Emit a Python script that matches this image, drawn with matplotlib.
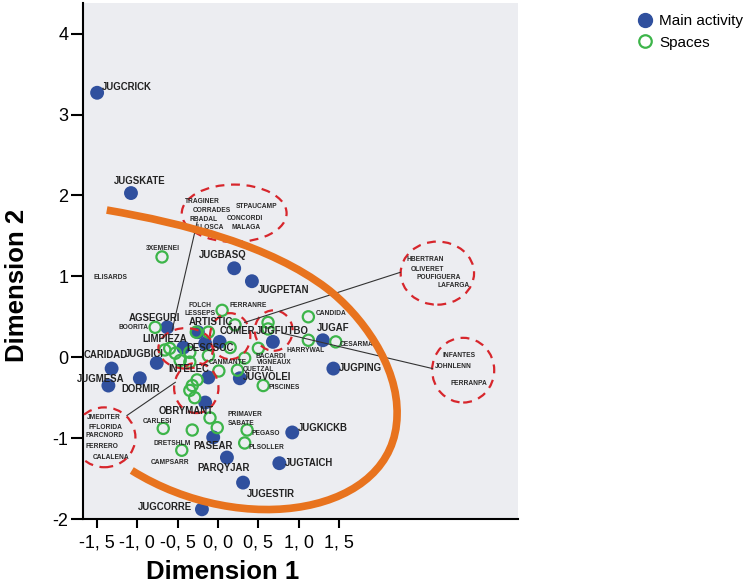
import numpy as np
import matplotlib
matplotlib.use("Agg")
import matplotlib.pyplot as plt
from matplotlib.patches import Ellipse, PathPatch
from matplotlib.path import Path
from matplotlib.lines import Line2D
from matplotlib.ticker import FixedLocator, FuncFormatter

plt.rcParams['font.family'] = ['Liberation Sans', 'DejaVu Sans']
plt.rcParams['axes.unicode_minus'] = False

# main activities (filled blue)
act_names = ['JUGCRICK', 'JUGSKATE', 'JUGBASQ', 'JUGPETAN', 'AGSEGURI', 'ARTISTIC',
             'LIMPIEZA', 'COMER', 'DESCSOC', 'JUGFUTBO', 'JUGAF', 'JUGPING',
             'JUGBICI', 'CARIDAD', 'JUGMESA', 'DORMIR', 'INTELEC', 'JUGVOLEI',
             'OBRYMANT', 'PASEAR', 'PARQYJAR', 'JUGESTIR', 'JUGCORRE', 'JUGKICKB',
             'JUGTAICH']
act_x = [-1.50, -1.08, 0.20, 0.42, -0.63, -0.25, -0.43, 0.02, -0.16, 0.68, 1.30, 1.43,
         -0.76, -1.32, -1.36, -0.97, -0.12, 0.27, -0.16, -0.06, 0.11, 0.31, -0.20, 0.92,
         0.76]
act_y = [3.27, 2.03, 1.10, 0.94, 0.37, 0.31, 0.12, 0.19, 0.17, 0.19, 0.21, -0.14,
         -0.07, -0.14, -0.35, -0.26, -0.25, -0.26, -0.56, -0.99, -1.24, -1.55, -1.88, -0.93,
         -1.31]

# spaces (open green circles), '' = no label
sp_names = ['3XEMENEI', 'BOORITA', 'FERRANRE', 'CANDIDA', 'HARRYWAL', 'CESARMA',
            'BACARDI', 'VIGNEAUX', 'CANMANTE', 'QUETZAL', 'PISCINES', 'PRIMAVER',
            'SABATE', 'PEGASO', 'PLSOLLER', 'CARLESI', 'DRETSHLM',
            '', '', '', '', '', '', '', '', '', '', '', '', '', '', '', '', '', '']
sp_x = [-0.695, -0.78, 0.05, 1.12, 1.12, 1.46, 0.50, 0.33, 0.01, 0.24, 0.56, -0.10,
        -0.01, 0.36, 0.33, -0.68, -0.45,
        -0.32, -0.12, 0.21, 0.62, 0.62, -0.60, -0.66, -0.53, -0.35, -0.12, -0.47, -0.35,
        0.15, -0.26, -0.32, -0.35, -0.29, -0.27]
sp_y = [1.24, 0.37, 0.58, 0.50, 0.21, 0.19, 0.11, -0.01, -0.17, -0.16, -0.35, -0.75,
        -0.87, -0.90, -1.06, -0.88, -1.15,
        -0.90, 0.31, 0.40, 0.43, 0.35, 0.11, 0.09, 0.05, 0.06, 0.02, -0.04, -0.06,
        0.12, -0.28, -0.35, -0.41, -0.50, 0.31]

# spaces shown only by name (grouped in the callouts)
grp_names = ['TRAGINER', 'CORRADES', 'RBADAL', 'LLOSCA', 'STPAUCAMP', 'CONCORDI', 'MALAGA',
             'HBERTRAN', 'OLIVERET', 'POUFIGUERA', 'LAFARGA',
             'INFANTES', 'JOHNLENN', 'FERRANPA',
             'JMEDITER', 'FFLORIDA', 'PARCNORD', 'FERRERO', 'CALALENA',
             'ELISARDS', 'CAMPSARR', 'FOLCH', 'LESSEPS']
grp_x = [-0.41, -0.31, -0.35, -0.27, 0.22, 0.11, 0.17,
         2.34, 2.39, 2.46, 2.72,
         2.78, 2.69, 2.88,
         -1.63, -1.61, -1.65, -1.65, -1.55,
         -1.55, -0.84, -0.37, -0.41]
grp_y = [1.92, 1.81, 1.70, 1.60, 1.86, 1.71, 1.60,
         1.21, 1.09, 0.98, 0.89,
         0.02, -0.11, -0.32,
         -0.75, -0.87, -0.97, -1.10, -1.24,
         0.98, -1.30, 0.64, 0.54]

# label offsets (points)
act_off = [(21.6, 4.3), (6.5, 8.6), (-8.6, 9.4), (23, -6.5), (-9.4, 6.5), (9.4, 7),
           (-13.7, 6.5), (13, 7.9), (3.6, -3.6), (6.5, 7.9), (7.2, 8.6), (19.4, 0.7),
           (-8.6, 6.5), (-4.3, 10), (-5.8, 5), (0.7, -7.9), (-14.4, 5.8), (19.4, 0.7),
           (-13.7, -5.8), (0, -6.5), (-2.2, -7.2), (20, -7.9), (-26.6, 1.4), (22.3, 2.9),
           (21.6, 0)]
sp_off = [(0.7, 5.8), (-15.8, 0), (18.7, 3.6), (16.6, 2.2), (-2.2, -7.2), (15, -2.2),
          (8.6, -5.8), (21.6, -2.9), (6.5, 5.8), (15, 0.7), (15, -1.4), (25, 2.2),
          (17.3, 2.9), (13.7, -2.2), (15.8, -3.6), (-4.3, 5), (-7.2, 5)]

BLUE = '#30509E'
GREEN = '#3DB54A'
RED = '#D7262C'
ORANGE = '#E8731E'

fig = plt.figure(figsize=(7.51, 5.86), dpi=100)
ax = fig.add_axes([83/751, 1 - 519/586, (518 - 83)/751, (519 - 3)/586])
ax.set_facecolor('#ECEDF1')
ax.set_xlim(-1.675, 3.72)
ax.set_ylim(-2.0, 4.38)
for s in ['top', 'right']:
    ax.spines[s].set_visible(False)
for s in ['left', 'bottom']:
    ax.spines[s].set_linewidth(1.5)

ax.scatter(act_x, act_y, s=100, color=BLUE, edgecolors='none', zorder=3)
ax.scatter(sp_x, sp_y, s=65, facecolors='none', edgecolors=GREEN, linewidths=1.6, zorder=4)

for n, x, y, o in zip(act_names, act_x, act_y, act_off):
    ax.annotate(n, (x, y), xytext=o, textcoords='offset points', ha='center', va='center',
                fontsize=6.9, fontweight='bold', color='#222222', zorder=6)
for n, x, y, o in zip(sp_names, sp_x, sp_y, sp_off + [(0, 0)] * (len(sp_names) - len(sp_off))):
    if n:
        ax.annotate(n, (x, y), xytext=o, textcoords='offset points', ha='center', va='center',
                    fontsize=4.8, fontweight='bold', color='#2a2a2a', zorder=6)
for n, x, y in zip(grp_names, grp_x, grp_y):
    ax.text(x, y, n, ha='left', va='center', fontsize=4.8, fontweight='bold',
            color='#2a2a2a', zorder=6)

# callout ellipses
ells = [((0.20, 1.78), 1.30, 0.71), ((2.72, 1.04), 0.91, 0.78), ((3.04, -0.16), 0.77, 0.80),
        ((-1.41, -0.99), 0.77, 0.74), ((0.69, 0.33), 0.47, 0.50), ((0.15, 0.26), 0.50, 0.57),
        ((-0.40, 0.11), 0.68, 0.50), ((-0.27, -0.38), 0.55, 0.62)]
for c, w, h in ells:
    ax.add_patch(Ellipse(c, w, h, fill=False, edgecolor=RED, lw=1.6, ls=(0, (4, 3)), zorder=5))

# connector lines
for (x0, y0), (x1, y1) in [((-0.26, 1.67), (-0.57, 0.33)), ((2.26, 1.05), (0.33, 0.43)),
                           ((0.79, 0.30), (2.66, -0.14)), ((-1.13, -0.72), (-0.53, -0.31))]:
    ax.plot([x0, x1], [y0, y1], color='#333333', lw=0.8, zorder=5)

# orange arc
verts = [(-1.38, 1.82), (-0.4, 1.65), (0.65, 1.38), (1.35, 0.85),
         (1.77, 0.53), (2.24, -0.1), (2.22, -0.72),
         (2.2, -1.95), (0.3, -2.25), (-1.07, -1.40)]
codes = [Path.MOVETO] + [Path.CURVE4] * 9
ax.add_patch(PathPatch(Path(verts, codes), fill=False, edgecolor=ORANGE, lw=5.5,
                       capstyle='butt', zorder=7))

ax.xaxis.set_major_locator(FixedLocator([-1.5, -1.0, -0.5, 0.0, 0.5, 1.0, 1.5]))
ax.xaxis.set_major_formatter(FuncFormatter(lambda v, p: ('%.1f' % v).replace('.', ', ')))
ax.yaxis.set_major_locator(FixedLocator([-2, -1, 0, 1, 2, 3, 4]))
ax.yaxis.set_major_formatter(FuncFormatter(lambda v, p: '%d' % v))
ax.tick_params(axis='x', length=6.5, width=1.5, labelsize=13, pad=5)
ax.tick_params(axis='y', length=8.5, width=1.5, labelsize=13, pad=2)
ax.set_xlabel('Dimension 1', fontsize=18.5, fontweight='bold')
ax.xaxis.set_label_coords(0.32, -0.08)
ax.set_ylabel('Dimension 2', fontsize=18.5, fontweight='bold')
ax.yaxis.set_label_coords(-0.125, 0.453)

handles = [Line2D([], [], marker='o', ls='', markersize=10, color=BLUE, markeredgecolor=BLUE),
           Line2D([], [], marker='o', ls='', markersize=9, markerfacecolor='none',
                  markeredgecolor=GREEN, markeredgewidth=1.6)]
fig.legend(handles, ['Main activity', 'Spaces'], loc='upper left',
           bbox_to_anchor=(630/751, 1 - 8/586), frameon=False, fontsize=11,
           handletextpad=0.3, labelspacing=0.5, handlelength=1.2, borderaxespad=0)

fig.savefig('out.png', dpi=100)
